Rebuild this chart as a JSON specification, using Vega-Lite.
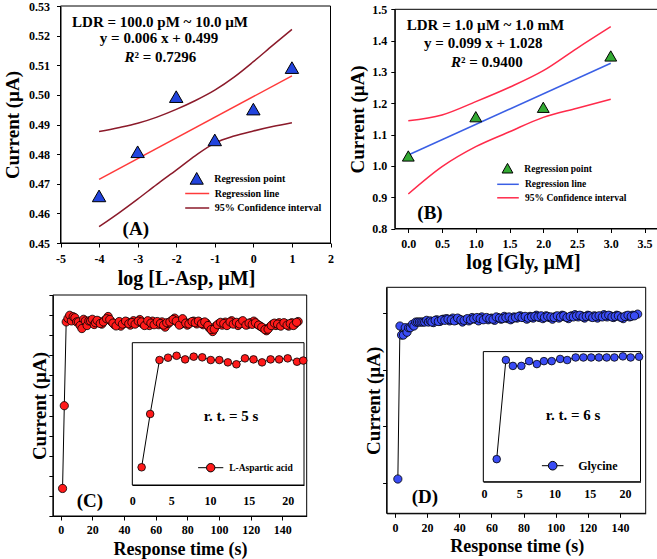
{
  "$schema": "https://vega.github.io/schema/vega-lite/v6.json",
  "width": 657,
  "height": 559,
  "padding": 0,
  "autosize": {"type": "none"},
  "background": "white",
  "config": {
    "view": {"stroke": null},
    "axis": {"grid": false, "domainColor": "black", "tickColor": "black", "labelColor": "black", "titleColor": "black", "labelFont": "Liberation Serif", "titleFont": "Liberation Serif", "labelFontWeight": "bold", "titleFontWeight": "bold", "domainWidth": 1, "tickWidth": 1, "zindex": 1, "labelFlush": false, "labelOverlap": false, "titleBaseline": "middle", "titleAlign": "center"},
    "legend": {"labelFont": "Liberation Serif", "labelFontWeight": "bold", "labelColor": "black", "padding": 0, "offset": 0, "title": null, "symbolSize": 144, "rowPadding": 2.5}
  },
  "datasets": {
    "asp": [
      {"t":1.2,"v":1.37},{"t":2.3,"v":5.49},{"t":3.5,"v":9.66},{"t":4.6,"v":9.84},{"t":5.7,"v":9.99},{"t":6.8,"v":9.71},{"t":7.9,"v":9.92},{"t":9.0,"v":9.87},{"t":10.1,"v":9.66},{"t":11.2,"v":9.66},{"t":12.3,"v":9.48},{"t":13.4,"v":9.33},{"t":14.5,"v":9.79},{"t":15.6,"v":9.71},{"t":16.7,"v":9.48},{"t":17.8,"v":9.71},{"t":18.9,"v":9.71},{"t":20.0,"v":9.79},{"t":21.2,"v":9.53},
      {"t":22,"v":9.62},{"t":24,"v":9.70},{"t":26,"v":9.55},{"t":28,"v":9.75},{"t":30,"v":9.93},{"t":32,"v":9.68},{"t":34,"v":9.52},{"t":36,"v":9.60},{"t":38,"v":9.45},{"t":40,"v":9.58},{"t":42,"v":9.66},{"t":44,"v":9.50},{"t":46,"v":9.72},{"t":48,"v":9.62},{"t":50,"v":9.78},{"t":52,"v":9.55},{"t":54,"v":9.64},{"t":56,"v":9.48},{"t":58,"v":9.70},{"t":60,"v":9.60},{"t":62,"v":9.52},{"t":64,"v":9.66},{"t":66,"v":9.40},{"t":68,"v":9.58},{"t":70,"v":9.72},{"t":72,"v":9.85},{"t":74,"v":9.62},{"t":76,"v":9.55},{"t":78,"v":9.68},{"t":80,"v":9.50},{"t":82,"v":9.63},{"t":84,"v":9.70},{"t":86,"v":9.56},{"t":88,"v":9.64},{"t":90,"v":9.52},{"t":92,"v":9.60},{"t":94,"v":9.35},{"t":96,"v":9.18},{"t":98,"v":9.45},{"t":100,"v":9.58},{"t":102,"v":9.50},{"t":104,"v":9.65},{"t":106,"v":9.55},{"t":108,"v":9.72},{"t":110,"v":9.60},{"t":112,"v":9.48},{"t":114,"v":9.66},{"t":116,"v":9.58},{"t":118,"v":9.52},{"t":120,"v":9.62},{"t":122,"v":9.70},{"t":124,"v":9.55},{"t":126,"v":9.45},{"t":128,"v":9.35},{"t":130,"v":9.22},{"t":132,"v":9.40},{"t":134,"v":9.55},{"t":136,"v":9.48},{"t":138,"v":9.62},{"t":140,"v":9.52},{"t":142,"v":9.58},{"t":144,"v":9.45},{"t":146,"v":9.62},{"t":148,"v":9.55},{"t":150,"v":9.68},
      {"t":23,"v":9.74},{"t":25,"v":9.58},{"t":27,"v":9.66},{"t":29,"v":9.82},{"t":31,"v":9.78},{"t":33,"v":9.60},{"t":35,"v":9.46},{"t":37,"v":9.68},{"t":39,"v":9.55},{"t":41,"v":9.70},{"t":43,"v":9.57},{"t":45,"v":9.63},{"t":47,"v":9.55},{"t":49,"v":9.70},{"t":51,"v":9.66},{"t":53,"v":9.48},{"t":55,"v":9.72},{"t":57,"v":9.60},{"t":59,"v":9.52},{"t":61,"v":9.68},{"t":63,"v":9.58},{"t":65,"v":9.50},{"t":67,"v":9.62},{"t":69,"v":9.66},{"t":71,"v":9.78},{"t":73,"v":9.70},{"t":75,"v":9.50},{"t":77,"v":9.82},{"t":79,"v":9.60},{"t":81,"v":9.56},{"t":83,"v":9.68},{"t":85,"v":9.62},{"t":87,"v":9.70},{"t":89,"v":9.58},{"t":91,"v":9.66},{"t":93,"v":9.48},{"t":95,"v":9.28},{"t":97,"v":9.30},{"t":99,"v":9.52},{"t":101,"v":9.64},{"t":103,"v":9.58},{"t":105,"v":9.48},{"t":107,"v":9.66},{"t":109,"v":9.55},{"t":111,"v":9.64},{"t":113,"v":9.56},{"t":115,"v":9.72},{"t":117,"v":9.50},{"t":119,"v":9.60},{"t":121,"v":9.54},{"t":123,"v":9.62},{"t":125,"v":9.50},{"t":127,"v":9.40},{"t":129,"v":9.28},{"t":131,"v":9.30},{"t":133,"v":9.48},{"t":135,"v":9.60},{"t":137,"v":9.55},{"t":139,"v":9.45},{"t":141,"v":9.62},{"t":143,"v":9.50},{"t":145,"v":9.58},{"t":147,"v":9.48},{"t":149,"v":9.64}
    ],
    "gly": [
      {"t":1.8,"v":1.07},{"t":3.1,"v":3.77},{"t":4.1,"v":3.61},{"t":5.3,"v":3.61},{"t":6.4,"v":3.74},{"t":7.5,"v":3.66},{"t":8.5,"v":3.74},{"t":9.6,"v":3.74},{"t":10.8,"v":3.80},{"t":11.8,"v":3.77},{"t":13.0,"v":3.84},{"t":14.1,"v":3.84},{"t":15.2,"v":3.84},{"t":16.3,"v":3.84},{"t":17.4,"v":3.84},{"t":18.5,"v":3.84},{"t":19.7,"v":3.87},{"t":20.8,"v":3.84},
      {"t":22,"v":3.86},{"t":24,"v":3.83},{"t":26,"v":3.88},{"t":28,"v":3.85},{"t":30,"v":3.89},{"t":32,"v":3.90},{"t":34,"v":3.86},{"t":36,"v":3.91},{"t":38,"v":3.87},{"t":40,"v":3.89},{"t":42,"v":3.84},{"t":44,"v":3.88},{"t":46,"v":3.86},{"t":48,"v":3.92},{"t":50,"v":3.89},{"t":52,"v":3.86},{"t":54,"v":3.93},{"t":56,"v":3.90},{"t":58,"v":3.88},{"t":60,"v":3.91},{"t":62,"v":3.87},{"t":64,"v":3.92},{"t":66,"v":3.89},{"t":68,"v":3.94},{"t":70,"v":3.90},{"t":72,"v":3.88},{"t":74,"v":3.93},{"t":76,"v":3.91},{"t":78,"v":3.95},{"t":80,"v":3.92},{"t":82,"v":3.89},{"t":84,"v":3.94},{"t":86,"v":3.91},{"t":88,"v":3.96},{"t":90,"v":3.92},{"t":92,"v":3.90},{"t":94,"v":3.95},{"t":96,"v":3.92},{"t":98,"v":3.89},{"t":100,"v":3.94},{"t":102,"v":3.91},{"t":104,"v":3.96},{"t":106,"v":3.93},{"t":108,"v":3.90},{"t":110,"v":3.95},{"t":112,"v":3.97},{"t":114,"v":3.93},{"t":116,"v":3.95},{"t":118,"v":3.91},{"t":120,"v":3.96},{"t":122,"v":3.93},{"t":124,"v":3.95},{"t":126,"v":3.91},{"t":128,"v":3.94},{"t":130,"v":3.97},{"t":132,"v":3.93},{"t":134,"v":3.95},{"t":136,"v":3.92},{"t":138,"v":3.96},{"t":140,"v":3.93},{"t":142,"v":3.90},{"t":144,"v":3.95},{"t":146,"v":3.93},{"t":148,"v":3.96},{"t":151,"v":3.98},
      {"t":23,"v":3.84},{"t":25,"v":3.87},{"t":27,"v":3.85},{"t":29,"v":3.88},{"t":31,"v":3.87},{"t":33,"v":3.89},{"t":35,"v":3.88},{"t":37,"v":3.86},{"t":39,"v":3.91},{"t":41,"v":3.88},{"t":43,"v":3.87},{"t":45,"v":3.90},{"t":47,"v":3.88},{"t":49,"v":3.90},{"t":51,"v":3.92},{"t":53,"v":3.90},{"t":55,"v":3.88},{"t":57,"v":3.92},{"t":59,"v":3.90},{"t":61,"v":3.89},{"t":63,"v":3.93},{"t":65,"v":3.91},{"t":67,"v":3.90},{"t":69,"v":3.92},{"t":71,"v":3.93},{"t":73,"v":3.90},{"t":75,"v":3.92},{"t":77,"v":3.94},{"t":79,"v":3.92},{"t":81,"v":3.94},{"t":83,"v":3.91},{"t":85,"v":3.93},{"t":87,"v":3.94},{"t":89,"v":3.93},{"t":91,"v":3.95},{"t":93,"v":3.92},{"t":95,"v":3.94},{"t":97,"v":3.93},{"t":99,"v":3.92},{"t":101,"v":3.95},{"t":103,"v":3.93},{"t":105,"v":3.95},{"t":107,"v":3.92},{"t":109,"v":3.94},{"t":111,"v":3.93},{"t":113,"v":3.95},{"t":115,"v":3.96},{"t":117,"v":3.93},{"t":119,"v":3.94},{"t":121,"v":3.95},{"t":123,"v":3.92},{"t":125,"v":3.94},{"t":127,"v":3.95},{"t":129,"v":3.93},{"t":131,"v":3.95},{"t":133,"v":3.96},{"t":135,"v":3.93},{"t":137,"v":3.94},{"t":139,"v":3.95},{"t":141,"v":3.92},{"t":143,"v":3.94},{"t":145,"v":3.96},{"t":147,"v":3.94},{"t":149,"v":3.95}
    ]
  },
  "layer": [
    {
      "layer": [
        {"data": {"values": [{}]}, "mark": {"type": "rect", "fillOpacity": 0, "stroke": "black", "strokeWidth": 1},
          "encoding": {
            "x": {"datum": -5, "type": "quantitative", "scale": {"domain": [-5, 2], "range": [60.5, 330.5], "nice": false, "zero": false},
              "axis": {"orient": "bottom", "offset": -316, "values": [-5,-4,-3,-2,-1,0,1,2], "labelExpr": "'' + datum.value", "labelFontSize": 12, "tickSize": 4, "labelPadding": 6, "title": "log [L-Asp, µM]", "titleFontSize": 20, "titleX": 186, "titleY": 35}},
            "x2": {"datum": 2},
            "y": {"datum": 0.45, "type": "quantitative", "scale": {"domain": [0.45, 0.53], "range": [243, 6], "nice": false, "zero": false},
              "axis": {"orient": "left", "offset": -60.5, "values": [0.45,0.46,0.47,0.48,0.49,0.5,0.51,0.52,0.53], "format": ".2f", "labelFontSize": 12, "tickSize": 4, "labelPadding": 7, "title": "Current (µA)", "titleFontSize": 19, "titleX": -48.5, "titleY": 124.5, "titleAngle": -90}},
            "y2": {"datum": 0.53}}},
        {"data": {"values": [
            {"x":-4,"y":0.4876,"band":"upper"},{"x":-3.5,"y":0.4889,"band":"upper"},{"x":-3,"y":0.4904,"band":"upper"},{"x":-2.5,"y":0.4925,"band":"upper"},{"x":-2,"y":0.4951,"band":"upper"},{"x":-1.5,"y":0.4981,"band":"upper"},{"x":-1,"y":0.5016,"band":"upper"},{"x":-0.5,"y":0.506,"band":"upper"},{"x":0,"y":0.5112,"band":"upper"},{"x":0.5,"y":0.5167,"band":"upper"},{"x":1,"y":0.5221,"band":"upper"},
            {"x":-4,"y":0.4555,"band":"lower"},{"x":-3.5,"y":0.46,"band":"lower"},{"x":-3,"y":0.4648,"band":"lower"},{"x":-2.5,"y":0.4698,"band":"lower"},{"x":-2,"y":0.4746,"band":"lower"},{"x":-1.5,"y":0.4795,"band":"lower"},{"x":-1,"y":0.4837,"band":"lower"},{"x":-0.5,"y":0.4861,"band":"lower"},{"x":0,"y":0.4878,"band":"lower"},{"x":0.5,"y":0.4893,"band":"lower"},{"x":1,"y":0.4906,"band":"lower"}
          ]},
          "mark": {"type": "line", "strokeWidth": 1.5, "interpolate": "monotone"},
          "encoding": {"x": {"field": "x", "type": "quantitative"}, "y": {"field": "y", "type": "quantitative"}, "detail": {"field": "band"}, "stroke": {"datum": "95% Confidence interval"}}},
        {"data": {"values": [{"x":-4,"y":0.4715},{"x":1,"y":0.5064}]},
          "mark": {"type": "line", "strokeWidth": 1.5},
          "encoding": {"x": {"field": "x", "type": "quantitative"}, "y": {"field": "y", "type": "quantitative"},
            "stroke": {"datum": "Regression line", "scale": {"domain": ["Regression line", "95% Confidence interval"], "range": ["#ff3a3a", "#8b1a2a"]},
              "legend": {"orient": "none", "legendX": 190.2, "legendY": 186.5, "labelFontSize": 10, "labelOffset": 10.5, "symbolType": "M-2,0H2", "symbolStrokeWidth": 1.5}}}},
        {"data": {"values": [{"x":-4,"y":0.4659},{"x":-3,"y":0.4808},{"x":-2,"y":0.4994},{"x":-1,"y":0.4848},{"x":0,"y":0.4952},{"x":1,"y":0.5092}]},
          "mark": {"type": "point", "shape": "triangle-up", "filled": true, "size": 180, "stroke": "black", "strokeWidth": 1, "opacity": 1},
          "encoding": {"x": {"field": "x", "type": "quantitative"}, "y": {"field": "y", "type": "quantitative"},
            "fill": {"datum": "Regression point", "scale": {"domain": ["Regression point"], "range": ["#2244dd"]},
              "legend": {"orient": "none", "legendX": 190.2, "legendY": 172, "labelFontSize": 10, "labelOffset": 11, "symbolType": "M0,-1L1.1,0.95L-1.1,0.95Z", "symbolStrokeColor": "black", "symbolStrokeWidth": 1}}}},
        {"data": {"values": [{}]}, "mark": {"type": "text", "text": "LDR = 100.0 pM ~ 10.0 µM", "font": "Liberation Serif", "fontWeight": "bold", "fontSize": 15, "align": "center", "baseline": "middle", "color": "black"},
          "encoding": {"x": {"datum": -2.42}, "y": {"datum": 0.5247}}},
        {"data": {"values": [{}]}, "mark": {"type": "text", "text": "y = 0.006 x + 0.499", "font": "Liberation Serif", "fontWeight": "bold", "fontSize": 15, "align": "center", "baseline": "middle", "color": "black"},
          "encoding": {"x": {"datum": -2.446}, "y": {"datum": 0.5191}}},
        {"data": {"values": [{}]}, "mark": {"type": "text", "text": "R", "font": "Liberation Serif", "fontWeight": "bold", "fontStyle": "italic", "fontSize": 15, "align": "right", "baseline": "middle", "color": "black"},
          "encoding": {"x": {"datum": -3.081}, "y": {"datum": 0.5129}}},
        {"data": {"values": [{}]}, "mark": {"type": "text", "text": "² = 0.7296", "font": "Liberation Serif", "fontWeight": "bold", "fontSize": 15, "align": "left", "baseline": "middle", "color": "black"},
          "encoding": {"x": {"datum": -3.081}, "y": {"datum": 0.5129}}},
        {"data": {"values": [{}]}, "mark": {"type": "text", "text": "(A)", "font": "Liberation Serif", "fontWeight": "bold", "fontSize": 19, "align": "center", "baseline": "middle", "color": "black"},
          "encoding": {"x": {"datum": -3.048}, "y": {"datum": 0.45456}}}
      ]
    },
    {
      "layer": [
        {"data": {"values": [{}]}, "mark": {"type": "rect", "fillOpacity": 0, "stroke": "black", "strokeWidth": 1},
          "encoding": {
            "x": {"datum": -0.2, "type": "quantitative", "scale": {"domain": [-0.2, 3.7], "range": [394.8, 658], "nice": false, "zero": false},
              "axis": {"orient": "bottom", "offset": -330.5, "values": [0,0.5,1,1.5,2,2.5,3,3.5], "format": ".1f", "labelFontSize": 12, "tickSize": 4, "labelPadding": 6, "title": "log [Gly, µM]", "titleFontSize": 20, "titleX": 523, "titleY": 33.5}},
            "x2": {"datum": 3.7},
            "y": {"datum": 0.8, "type": "quantitative", "scale": {"domain": [0.8, 1.5], "range": [228.5, 9.3], "nice": false, "zero": false},
              "axis": {"orient": "left", "offset": -394.8, "values": [0.8,0.9,1,1.1,1.2,1.3,1.4,1.5], "format": ".1f", "labelFontSize": 12, "tickSize": 4, "labelPadding": 4, "title": "Current (µA)", "titleFontSize": 19, "titleX": -37.3, "titleY": 118.9, "titleAngle": -90}},
            "y2": {"datum": 1.5}}},
        {"data": {"values": [
            {"x":0,"y":1.144,"band":"upper"},{"x":0.5,"y":1.1625,"band":"upper"},{"x":1,"y":1.205,"band":"upper"},{"x":1.5,"y":1.251,"band":"upper"},{"x":2,"y":1.304,"band":"upper"},{"x":2.5,"y":1.3755,"band":"upper"},{"x":3,"y":1.4445,"band":"upper"},
            {"x":0,"y":0.91,"band":"lower"},{"x":0.5,"y":0.9974,"band":"lower"},{"x":1,"y":1.0613,"band":"lower"},{"x":1.5,"y":1.109,"band":"lower"},{"x":2,"y":1.155,"band":"lower"},{"x":2.5,"y":1.184,"band":"lower"},{"x":3,"y":1.2127,"band":"lower"}
          ]},
          "mark": {"type": "line", "strokeWidth": 1.5, "interpolate": "monotone"},
          "encoding": {"x": {"field": "x", "type": "quantitative"}, "y": {"field": "y", "type": "quantitative"}, "detail": {"field": "band"}, "stroke": {"datum": "95% Confidence interval"}}},
        {"data": {"values": [{"x":0,"y":1.0348},{"x":3,"y":1.3276}]},
          "mark": {"type": "line", "strokeWidth": 1.5},
          "encoding": {"x": {"field": "x", "type": "quantitative"}, "y": {"field": "y", "type": "quantitative"},
            "stroke": {"datum": "Regression line", "scale": {"domain": ["Regression line", "95% Confidence interval"], "range": ["#3a5fe5", "#ff2a4a"]},
              "legend": {"orient": "none", "legendX": 501, "legendY": 177.3, "labelFontSize": 9.5, "labelOffset": 10, "rowPadding": 1.5, "symbolType": "M-1.8,0H1.8", "symbolStrokeWidth": 1.5}}}},
        {"data": {"values": [{"x":0,"y":1.0316},{"x":1,"y":1.157},{"x":2,"y":1.187},{"x":3,"y":1.351}]},
          "mark": {"type": "point", "shape": "triangle-up", "filled": true, "size": 140, "stroke": "black", "strokeWidth": 1, "opacity": 1},
          "encoding": {"x": {"field": "x", "type": "quantitative"}, "y": {"field": "y", "type": "quantitative"},
            "fill": {"datum": "Regression point", "scale": {"domain": ["Regression point"], "range": ["#33aa33"]},
              "legend": {"orient": "none", "legendX": 501, "legendY": 162, "labelFontSize": 9.5, "labelOffset": 10.3, "symbolType": "M0,-0.85L0.9,0.75L-0.9,0.75Z", "symbolStrokeColor": "black", "symbolStrokeWidth": 1}}}},
        {"data": {"values": [{}]}, "mark": {"type": "text", "text": "LDR = 1.0 µM ~ 1.0 mM", "font": "Liberation Serif", "fontWeight": "bold", "fontSize": 15, "align": "center", "baseline": "middle", "color": "black"},
          "encoding": {"x": {"datum": 1.144}, "y": {"datum": 1.4499}}},
        {"data": {"values": [{}]}, "mark": {"type": "text", "text": "y = 0.099 x + 1.028", "font": "Liberation Serif", "fontWeight": "bold", "fontSize": 15, "align": "center", "baseline": "middle", "color": "black"},
          "encoding": {"x": {"datum": 1.111}, "y": {"datum": 1.3914}}},
        {"data": {"values": [{}]}, "mark": {"type": "text", "text": "R", "font": "Liberation Serif", "fontWeight": "bold", "fontStyle": "italic", "fontSize": 15, "align": "right", "baseline": "middle", "color": "black"},
          "encoding": {"x": {"datum": 0.781}, "y": {"datum": 1.3327}}},
        {"data": {"values": [{}]}, "mark": {"type": "text", "text": "² = 0.9400", "font": "Liberation Serif", "fontWeight": "bold", "fontSize": 15, "align": "left", "baseline": "middle", "color": "black"},
          "encoding": {"x": {"datum": 0.781}, "y": {"datum": 1.3327}}},
        {"data": {"values": [{}]}, "mark": {"type": "text", "text": "(B)", "font": "Liberation Serif", "fontWeight": "bold", "fontSize": 19, "align": "center", "baseline": "middle", "color": "black"},
          "encoding": {"x": {"datum": 0.321}, "y": {"datum": 0.8485}}}
      ]
    },
    {
      "layer": [
        {"data": {"values": [{}]}, "mark": {"type": "rect", "fillOpacity": 0, "stroke": "black", "strokeWidth": 1},
          "encoding": {
            "x": {"datum": -4.9, "type": "quantitative", "scale": {"domain": [-4.9, 155.4], "range": [52.9, 306.7], "nice": false, "zero": false},
              "axis": {"orient": "bottom", "offset": -43, "values": [0,20,40,60,80,100,120,140], "labelFontSize": 12, "tickSize": 4, "labelPadding": 4, "title": "Response time (s)", "titleFontSize": 18, "titleX": 180, "titleY": 33}},
            "x2": {"datum": 155.4},
            "y": {"datum": 0, "type": "quantitative", "scale": {"domain": [0, 11], "range": [516, 295], "nice": false, "zero": false},
              "axis": {"orient": "left", "offset": -52.9, "values": [0,1,2,3,4,5,6,7,8,9,10,11], "labels": false, "tickSize": 4, "title": "Current (µA)", "titleFontSize": 19, "titleX": -13, "titleY": 405.5, "titleAngle": -90}},
            "y2": {"datum": 11}}},
        {"data": {"name": "asp"}, "mark": {"type": "line", "color": "black", "strokeWidth": 1},
          "encoding": {"x": {"field": "t", "type": "quantitative"}, "y": {"field": "v", "type": "quantitative"}}},
        {"data": {"name": "asp"}, "mark": {"type": "point", "shape": "circle", "filled": true, "fill": "#ff1a1a", "stroke": "black", "strokeWidth": 0.8, "size": 68, "opacity": 1},
          "encoding": {"x": {"field": "t", "type": "quantitative"}, "y": {"field": "v", "type": "quantitative"}}},
        {"data": {"values": [{}]}, "mark": {"type": "text", "text": "(C)", "font": "Liberation Serif", "fontWeight": "bold", "fontSize": 19, "align": "center", "baseline": "middle", "color": "black"},
          "encoding": {"x": {"datum": 18.5}, "y": {"datum": 0.76}}}
      ]
    },
    {
      "layer": [
        {"data": {"values": [{}]}, "mark": {"type": "rect", "fill": "white", "stroke": "black", "strokeWidth": 1},
          "encoding": {
            "x": {"datum": 0, "type": "quantitative", "scale": {"domain": [0, 22.1], "range": [132.3, 304], "nice": false, "zero": false},
              "axis": {"orient": "bottom", "offset": -74, "values": [0,5,10,15,20], "labelFontSize": 12, "ticks": false, "labelPadding": 10, "title": null}},
            "x2": {"datum": 22.1},
            "y": {"datum": 0, "type": "quantitative", "scale": {"domain": [0, 11], "range": [485, 342.7], "nice": false, "zero": false},
              "axis": {"orient": "left", "offset": -132.3, "values": [1,2,3,4,5,6,7,8,9,10], "labels": false, "tickSize": -3, "title": null}},
            "y2": {"datum": 11}}},
        {"data": {"name": "asp"}, "transform": [{"filter": "datum.t <= 22"}], "mark": {"type": "line", "color": "black", "strokeWidth": 1},
          "encoding": {"x": {"field": "t", "type": "quantitative"}, "y": {"field": "v", "type": "quantitative"}}},
        {"data": {"name": "asp"}, "transform": [{"filter": "datum.t <= 22"}],
          "mark": {"type": "point", "shape": "circle", "filled": true, "stroke": "black", "strokeWidth": 0.8, "size": 58, "opacity": 1},
          "encoding": {"x": {"field": "t", "type": "quantitative"}, "y": {"field": "v", "type": "quantitative"},
            "fill": {"datum": "L-Aspartic acid", "scale": {"domain": ["L-Aspartic acid"], "range": ["#ff1a1a"]},
              "legend": {"orient": "none", "legendX": 204.2, "legendY": 461.2, "labelFontSize": 9.5, "labelOffset": 12, "symbolType": "M-2.1,0H-0.7M0.7,0H2.1M0.7,0A0.7,0.7,0,1,1,-0.7,0A0.7,0.7,0,1,1,0.7,0Z", "symbolStrokeColor": "black", "symbolStrokeWidth": 1}}}},
        {"data": {"values": [{}]}, "mark": {"type": "text", "text": "r. t. = 5 s", "font": "Liberation Serif", "fontWeight": "bold", "fontSize": 15, "align": "center", "baseline": "middle", "color": "black"},
          "encoding": {"x": {"datum": 12.7}, "y": {"datum": 5.33}}}
      ]
    },
    {
      "layer": [
        {"data": {"values": [{}]}, "mark": {"type": "rect", "fillOpacity": 0, "stroke": "black", "strokeWidth": 1},
          "encoding": {
            "x": {"datum": -5.2, "type": "quantitative", "scale": {"domain": [-5.2, 156], "range": [386.6, 645.7], "nice": false, "zero": false},
              "axis": {"orient": "bottom", "offset": -45.7, "values": [0,20,40,60,80,100,120,140], "labelFontSize": 12, "tickSize": 4, "labelPadding": 5, "title": "Response time (s)", "titleFontSize": 18, "titleX": 516.7, "titleY": 33.6}},
            "x2": {"datum": 156},
            "y": {"datum": 0.465, "type": "quantitative", "scale": {"domain": [0.465, 4.453], "range": [513.3, 287.3], "nice": false, "zero": false},
              "axis": {"orient": "left", "offset": -386.6, "values": [1,2,3,4], "labels": false, "tickSize": 4, "title": "Current (µA)", "titleFontSize": 19, "titleX": -13, "titleY": 400.3, "titleAngle": -90}},
            "y2": {"datum": 4.453}}},
        {"data": {"name": "gly"}, "mark": {"type": "line", "color": "black", "strokeWidth": 1},
          "encoding": {"x": {"field": "t", "type": "quantitative"}, "y": {"field": "v", "type": "quantitative"}}},
        {"data": {"name": "gly"}, "mark": {"type": "point", "shape": "circle", "filled": true, "fill": "#3a4cf5", "stroke": "black", "strokeWidth": 0.8, "size": 68, "opacity": 1},
          "encoding": {"x": {"field": "t", "type": "quantitative"}, "y": {"field": "v", "type": "quantitative"}}},
        {"data": {"values": [{}]}, "mark": {"type": "text", "text": "(D)", "font": "Liberation Serif", "fontWeight": "bold", "fontSize": 19, "align": "center", "baseline": "middle", "color": "black"},
          "encoding": {"x": {"datum": 18.67}, "y": {"datum": 0.758}}}
      ]
    },
    {
      "layer": [
        {"data": {"values": [{}]}, "mark": {"type": "rect", "fill": "white", "stroke": "black", "strokeWidth": 1},
          "encoding": {
            "x": {"datum": -0.1, "type": "quantitative", "scale": {"domain": [-0.1, 22.2], "range": [483.3, 640.5], "nice": false, "zero": false},
              "axis": {"orient": "bottom", "offset": -77.3, "values": [0,5,10,15,20], "labelFontSize": 12, "ticks": false, "labelPadding": 7, "title": null}},
            "x2": {"datum": 22.2},
            "y": {"datum": 0.455, "type": "quantitative", "scale": {"domain": [0.455, 4.0], "range": [481.7, 351.6], "nice": false, "zero": false},
              "axis": {"orient": "left", "offset": -483.3, "values": [1,2,3], "labels": false, "tickSize": -3, "title": null}},
            "y2": {"datum": 4.0}}},
        {"data": {"name": "gly"}, "transform": [{"filter": "datum.t <= 22"}], "mark": {"type": "line", "color": "black", "strokeWidth": 1},
          "encoding": {"x": {"field": "t", "type": "quantitative"}, "y": {"field": "v", "type": "quantitative"}}},
        {"data": {"name": "gly"}, "transform": [{"filter": "datum.t <= 22"}],
          "mark": {"type": "point", "shape": "circle", "filled": true, "stroke": "black", "strokeWidth": 0.8, "size": 58, "opacity": 1},
          "encoding": {"x": {"field": "t", "type": "quantitative"}, "y": {"field": "v", "type": "quantitative"},
            "fill": {"datum": "Glycine", "scale": {"domain": ["Glycine"], "range": ["#3a4cf5"]},
              "legend": {"orient": "none", "legendX": 546.2, "legendY": 459.2, "labelFontSize": 12, "labelOffset": 19, "symbolType": "M-1.8,0H-0.72M0.72,0H1.8M0.72,0A0.72,0.72,0,1,1,-0.72,0A0.72,0.72,0,1,1,0.72,0Z", "symbolStrokeColor": "black", "symbolStrokeWidth": 1}}}},
        {"data": {"values": [{}]}, "mark": {"type": "text", "text": "r. t. = 6 s", "font": "Liberation Serif", "fontWeight": "bold", "fontSize": 15, "align": "center", "baseline": "middle", "color": "black"},
          "encoding": {"x": {"datum": 12.62}, "y": {"datum": 2.272}}}
      ]
    }
  ],
  "resolve": {
    "scale": {"x": "independent", "y": "independent", "color": "independent", "fill": "independent", "stroke": "independent"},
    "axis": {"x": "independent", "y": "independent"},
    "legend": {"color": "independent", "fill": "independent", "stroke": "independent"}
  }
}
